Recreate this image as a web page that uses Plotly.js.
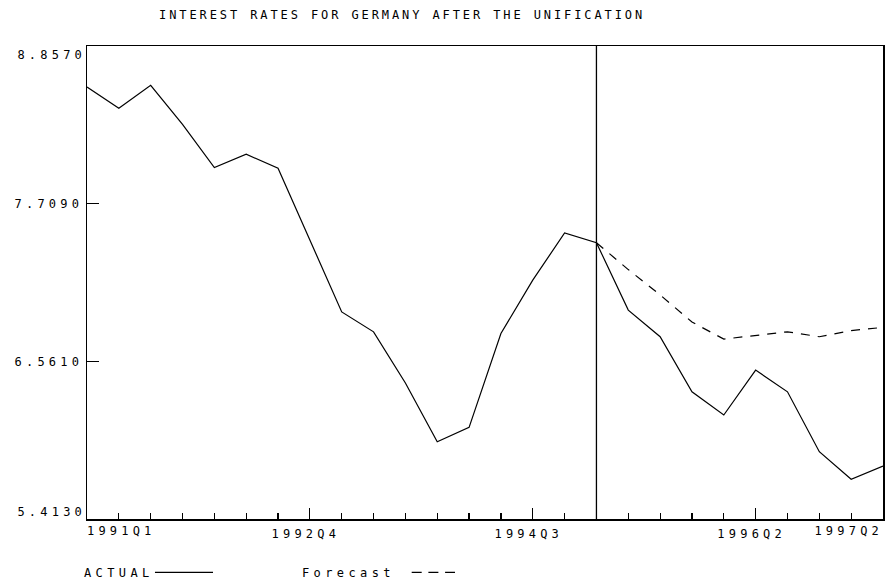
<!DOCTYPE html>
<html>
<head>
<meta charset="utf-8">
<script src="https://cdn.plot.ly/plotly-3.0.1.min.js"></script>
<style>
  html, body { margin: 0; padding: 0; background: #fff; }
  #chart { width: 889px; height: 582px; }
  .xtick text, .x2tick text, .x3tick text,
  .ytick text, .y2tick text, .y3tick text { letter-spacing: 4.2px !important; }
  .annotation-text { letter-spacing: 4.4px !important; }
  .gtitle { letter-spacing: 2.9px !important; }
</style>
</head>
<body>
<div id="chart"></div>
<script>
// Quarterly periods 1991Q1 .. 1997Q2
const quarters = [
  '1991Q1','1991Q2','1991Q3','1991Q4',
  '1992Q1','1992Q2','1992Q3','1992Q4',
  '1993Q1','1993Q2','1993Q3','1993Q4',
  '1994Q1','1994Q2','1994Q3','1994Q4',
  '1995Q1','1995Q2','1995Q3','1995Q4',
  '1996Q1','1996Q2','1996Q3','1996Q4',
  '1997Q1','1997Q2'
];
// ACTUAL interest rate
const actual = [
  8.559, 8.404, 8.571, 8.287,
  7.972, 8.069, 7.967, 7.443,
  6.921, 6.776, 6.403, 5.976,
  6.080, 6.764, 7.152, 7.496,
  7.425, 6.934, 6.740, 6.339,
  6.170, 6.497, 6.339, 5.903,
  5.702, 5.799
];
// Forecast from 1995Q1 onward
const forecastQuarters = [
  '1995Q1','1995Q2','1995Q3','1995Q4',
  '1996Q1','1996Q2','1996Q3','1996Q4',
  '1997Q1','1997Q2'
];
const forecast = [
  7.425, 7.229, 7.045, 6.847,
  6.723, 6.748, 6.776, 6.740,
  6.785, 6.808
];
const forecastOrigin = '1995Q1';
const xTickLabels = ['1992Q4','1994Q3','1996Q2'];
const xFirstLabel = '1991Q1';
const xLastLabel = '1997Q2';
const yTicks = [5.4130, 6.5610, 7.7090, 8.8570];

const idx = q => quarters.indexOf(q);
const xActual = quarters.map((q, i) => i);
const xForecast = forecastQuarters.map(idx);
const xMax = quarters.length - 1;
const yMin = yTicks[0], yMax = yTicks[yTicks.length - 1];

const FONT = { family: 'DejaVu Sans Mono, monospace', size: 12, color: '#000' };

const traces = [
  { x: xActual, y: actual, type: 'scatter', mode: 'lines', name: 'ACTUAL',
    line: { color: '#000', width: 1.2 }, showlegend: false, hoverinfo: 'skip' },
  { x: xForecast, y: forecast, type: 'scatter', mode: 'lines', name: 'Forecast',
    line: { color: '#000', width: 1.2, dash: '9px,8px' }, showlegend: false, hoverinfo: 'skip' },
  // carriers for the overlay axes that hold the end labels
  { x: xActual, y: actual, xaxis: 'x2', yaxis: 'y2', type: 'scatter', mode: 'lines',
    line: { width: 0 }, opacity: 0, showlegend: false, hoverinfo: 'skip' },
  { x: xActual, y: actual, xaxis: 'x3', yaxis: 'y3', type: 'scatter', mode: 'lines',
    line: { width: 0 }, opacity: 0, showlegend: false, hoverinfo: 'skip' }
];

const baseX = {
  range: [0, xMax], showgrid: false, zeroline: false, fixedrange: true,
  tickfont: FONT, ticklabelstandoff: 3
};
const baseY = {
  range: [yMin, yMax], showgrid: false, zeroline: false, fixedrange: true,
  tickfont: FONT
};

const layout = {
  width: 889, height: 582,
  margin: { l: 87, r: 6, t: 46, b: 63 },
  paper_bgcolor: '#fff', plot_bgcolor: '#fff',
  font: FONT,
  title: {
    text: 'INTEREST RATES FOR GERMANY AFTER THE UNIFICATION',
    font: FONT, xref: 'container', x: 0.4523, xanchor: 'center',
    yref: 'container', y: 0.974, yanchor: 'middle'
  },
  xaxis: Object.assign({}, baseX, {
    showline: true, linecolor: '#000', linewidth: 1.5, mirror: true,
    tickmode: 'array', tickvals: [0].concat(xTickLabels.map(idx)).concat([xMax]),
    ticktext: [''].concat(xTickLabels).concat(['']),
    ticklabelshift: -4,
    ticks: 'inside', ticklen: 11, tickwidth: 1.2, tickcolor: '#000',
    minor: { tickmode: 'linear', tick0: 0, dtick: 1, ticks: 'inside', ticklen: 6,
             tickwidth: 1.2, tickcolor: '#000', showgrid: false }
  }),
  xaxis2: Object.assign({}, baseX, {
    overlaying: 'x', side: 'bottom', showline: false, ticks: '',
    tickmode: 'array', tickvals: [idx(xFirstLabel)], ticktext: [xFirstLabel],
    ticklabelposition: 'outside right'
  }),
  xaxis3: Object.assign({}, baseX, {
    overlaying: 'x', side: 'bottom', showline: false, ticks: '',
    tickmode: 'array', tickvals: [idx(xLastLabel)], ticktext: [xLastLabel],
    ticklabelposition: 'outside left'
  }),
  yaxis: Object.assign({}, baseY, {
    showline: true, linecolor: '#000', linewidth: 1.5, mirror: true,
    tickmode: 'array', tickvals: yTicks,
    ticktext: yTicks.map((v, i) => (i === 0 || i === yTicks.length - 1) ? '' : v.toFixed(4)),
    ticks: 'inside', ticklen: 12, tickwidth: 1.2, tickcolor: '#000'
  }),
  yaxis2: Object.assign({}, baseY, {
    overlaying: 'y', side: 'left', showline: false, ticks: '',
    tickmode: 'array', tickvals: [yMax], ticktext: [yMax.toFixed(4)],
    ticklabelshift: 9
  }),
  yaxis3: Object.assign({}, baseY, {
    overlaying: 'y', side: 'left', showline: false, ticks: '',
    tickmode: 'array', tickvals: [yMin], ticktext: [yMin.toFixed(4)],
    ticklabelshift: -7
  }),
  shapes: [
    { type: 'line', xref: 'x', yref: 'paper', x0: idx(forecastOrigin), x1: idx(forecastOrigin),
      y0: 0, y1: 1, line: { color: '#000', width: 1.3 } },
    // legend samples
    { type: 'line', xref: 'paper', yref: 'paper', x0: 0.0854, x1: 0.1583, y0: -0.1127, y1: -0.1127,
      line: { color: '#000', width: 1.2 } },
    { type: 'line', xref: 'paper', yref: 'paper', x0: 0.4079, x1: 0.4623, y0: -0.1127, y1: -0.1127,
      line: { color: '#000', width: 1.2, dash: '10px,6.7px' } }
  ],
  annotations: [
    { text: 'ACTUAL', xref: 'paper', yref: 'paper', x: -0.0066, y: -0.114,
      xanchor: 'left', yanchor: 'middle', showarrow: false, font: FONT },
    { text: 'Forecast', xref: 'paper', yref: 'paper', x: 0.2677, y: -0.114,
      xanchor: 'left', yanchor: 'middle', showarrow: false, font: FONT }
  ]
};

Plotly.newPlot('chart', traces, layout, { displayModeBar: false, staticPlot: true });
</script>
</body>
</html>
